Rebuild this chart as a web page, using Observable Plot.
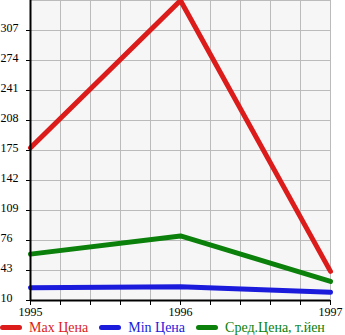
<!DOCTYPE html>
<html>
<head>
<meta charset="utf-8">
<script src="https://cdn.jsdelivr.net/npm/d3@7"></script>
<script src="https://cdn.jsdelivr.net/npm/@observablehq/plot@0.6"></script>
<style>
body { margin: 0; background: #fff; }
#legend { display: flex; align-items: center; font-family: "Liberation Serif", serif; font-size: 14px; height: 17px; margin-top: 1px; }
.item { display: flex; align-items: center; margin-right: 11px; white-space: nowrap; }
.sw { display: inline-block; width: 22px; height: 5px; border-radius: 3px; margin-right: 7px; }
</style>
</head>
<body>
<div id="chart"></div>
<div id="legend"></div>
<script>
const years = [1995, 1996, 1997];
const maxPrice = [178, 340, 42];
const minPrice = [24, 25, 19];
const avgPrice = [61, 81, 31];
const yTicks = [10, 43, 76, 109, 142, 175, 208, 241, 274, 307];
const xGrid = [1995, 1995.2, 1995.4, 1995.6, 1995.8, 1996, 1996.2, 1996.4, 1996.6, 1996.8, 1997];
const xLabels = [1995, 1996, 1997];
const seriesNames = ["Max Цена", "Min Цена", "Сред.Цена, т.йен"];
const seriesColors = ["#dc1b1b", "#1b1bdc", "#0b800b"];

const series = [maxPrice, minPrice, avgPrice];
const rows = [];
series.forEach((vals, i) => vals.forEach((v, j) => rows.push({year: years[j], value: v, name: seriesNames[i]})));

const chart = Plot.plot({
  width: 345,
  height: 318,
  marginLeft: 30,
  marginRight: 15,
  marginTop: 0,
  marginBottom: 18,
  style: {fontFamily: "Liberation Serif, serif", fontSize: "12px", background: "#fff", overflow: "visible"},
  x: {domain: [1995, 1997], axis: null, label: null},
  y: {domain: [10, 340], axis: null, label: null},
  color: {domain: seriesNames, range: seriesColors},
  marks: [
    Plot.frame({fill: "#f6f6f6", stroke: "#bbbbbb"}),
    Plot.gridX(xGrid, {stroke: "#bbbbbb", strokeOpacity: 1}),
    Plot.gridY(yTicks, {stroke: "#bbbbbb", strokeOpacity: 1}),
    Plot.line(rows, {x: "year", y: "value", z: "name", stroke: "name", strokeWidth: 5, strokeLinecap: "round", strokeLinejoin: "round"}),
    Plot.axisX(xGrid, {label: null, tickSize: 5, tickFormat: d => xLabels.includes(Math.round(d * 10) / 10) ? String(Math.round(d)) : "", tickPadding: 2, stroke: "#000", fill: "#000", strokeWidth: 1}),
    Plot.axisY(yTicks, {label: null, tickSize: 4, tickFormat: () => "", stroke: "#000"}),
    Plot.text(yTicks, {y: d => d, text: d => String(d), frameAnchor: "left", dx: -30, textAnchor: "start", lineAnchor: "bottom", dy: 1, fill: "#000"}),
    Plot.ruleY([10], {stroke: "#000", strokeWidth: 2}),
    Plot.ruleX([1995], {stroke: "#000", strokeWidth: 2})
  ]
});
document.getElementById("chart").appendChild(chart);

const legend = document.getElementById("legend");
seriesNames.forEach((n, i) => {
  const it = document.createElement("span");
  it.className = "item";
  it.style.color = seriesColors[i];
  const sw = document.createElement("span");
  sw.className = "sw";
  sw.style.background = seriesColors[i];
  it.appendChild(sw);
  it.appendChild(document.createTextNode(n));
  legend.appendChild(it);
});
</script>
</body>
</html>
